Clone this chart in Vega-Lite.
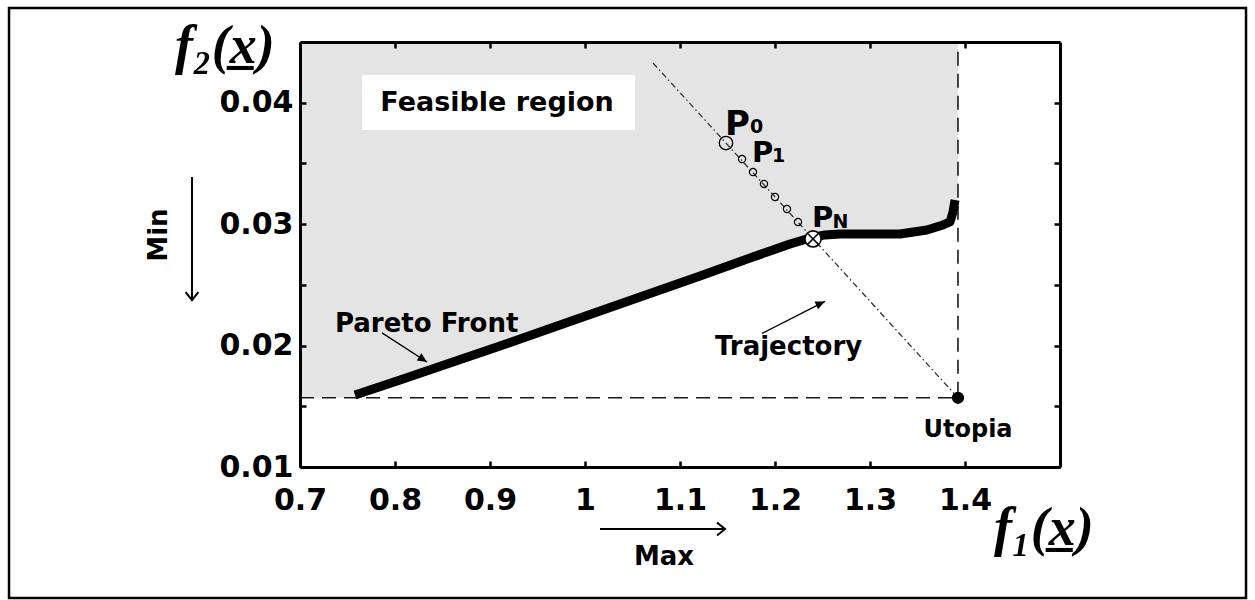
{
  "$schema": "https://vega.github.io/schema/vega-lite/v6.json",
  "width": 760,
  "height": 425,
  "autosize": {"type": "none"},
  "padding": {"left": 300, "top": 42, "right": 195, "bottom": 133},
  "background": "white",
  "config": {"view": {"stroke": null}, "font": "DejaVu Sans"},
  "resolve": {"axis": {"x": "independent", "y": "independent"}},
  "datasets": {
    "feasible": [
      {"f1": 0.7, "f2": 0.0157},
      {"f1": 0.7579, "f2": 0.0157},
      {"f1": 0.8053, "f2": 0.01716},
      {"f1": 0.8579, "f2": 0.01856},
      {"f1": 0.9105, "f2": 0.01996},
      {"f1": 0.9632, "f2": 0.02141},
      {"f1": 1.0158, "f2": 0.02285},
      {"f1": 1.0684, "f2": 0.02429},
      {"f1": 1.1211, "f2": 0.02573},
      {"f1": 1.1737, "f2": 0.02721},
      {"f1": 1.2158, "f2": 0.02836},
      {"f1": 1.2368, "f2": 0.02886},
      {"f1": 1.2526, "f2": 0.02911},
      {"f1": 1.2684, "f2": 0.02919},
      {"f1": 1.3316, "f2": 0.02919},
      {"f1": 1.36, "f2": 0.02952},
      {"f1": 1.3768, "f2": 0.02993},
      {"f1": 1.3842, "f2": 0.03018},
      {"f1": 1.3874, "f2": 0.031},
      {"f1": 1.3895, "f2": 0.03199},
      {"f1": 1.3926, "f2": 0.03199}
    ],
    "pareto": [
      {"f1": 0.7579, "f2": 0.01593, "seq": 1},
      {"f1": 0.8053, "f2": 0.01716, "seq": 2},
      {"f1": 0.8579, "f2": 0.01856, "seq": 3},
      {"f1": 0.9105, "f2": 0.01996, "seq": 4},
      {"f1": 0.9632, "f2": 0.02141, "seq": 5},
      {"f1": 1.0158, "f2": 0.02285, "seq": 6},
      {"f1": 1.0684, "f2": 0.02429, "seq": 7},
      {"f1": 1.1211, "f2": 0.02573, "seq": 8},
      {"f1": 1.1737, "f2": 0.02721, "seq": 9},
      {"f1": 1.2158, "f2": 0.02836, "seq": 10},
      {"f1": 1.2368, "f2": 0.02886, "seq": 11},
      {"f1": 1.2526, "f2": 0.02911, "seq": 12},
      {"f1": 1.2684, "f2": 0.02919, "seq": 13},
      {"f1": 1.3316, "f2": 0.02919, "seq": 14},
      {"f1": 1.36, "f2": 0.02952, "seq": 15},
      {"f1": 1.3768, "f2": 0.02993, "seq": 16},
      {"f1": 1.3842, "f2": 0.03018, "seq": 17},
      {"f1": 1.3874, "f2": 0.031, "seq": 18},
      {"f1": 1.3895, "f2": 0.03199, "seq": 19}
    ],
    "utopiaBounds": [
      {"f1": 0.7, "f2": 0.0157, "seq": 1},
      {"f1": 1.3926, "f2": 0.0157, "seq": 2},
      {"f1": 1.3926, "f2": 0.045, "seq": 3}
    ],
    "trajectory": [
      {"f1": 1.0716, "f2": 0.04327},
      {"f1": 1.3926, "f2": 0.0157}
    ],
    "iterates": [
      {"f1": 1.1653, "f2": 0.03536},
      {"f1": 1.1768, "f2": 0.03429},
      {"f1": 1.1884, "f2": 0.03331},
      {"f1": 1.2, "f2": 0.03224},
      {"f1": 1.2126, "f2": 0.03125},
      {"f1": 1.2242, "f2": 0.03018}
    ],
    "start": [{"f1": 1.1484, "f2": 0.03668}],
    "final": [{"f1": 1.24, "f2": 0.02878}],
    "utopia": [{"f1": 1.3926, "f2": 0.0157}],
    "regionBox": [{"x0": 0.7653, "x1": 1.0526, "y0": 0.03775, "y1": 0.04228}],
    "regionLabel": [{"label": "Feasible region", "f1": 0.9074, "f2": 0.0400}],
    "notes": [
      {"label": "Pareto Front", "f1": 0.7368, "f2": 0.02112},
      {"label": "Trajectory", "f1": 1.1368, "f2": 0.01922}
    ],
    "thinArrows": [
      {"x0": 0.7863, "y0": 0.02104, "x1": 0.8337, "y1": 0.01865},
      {"x0": 1.1863, "y0": 0.0210, "x1": 1.2526, "y1": 0.02363}
    ],
    "paretoTip": [{"f1": 0.8337, "f2": 0.01865}],
    "trajTip": [{"f1": 1.2526, "f2": 0.02363}],
    "utopiaLabel": [{"label": "Utopia", "f1": 1.4032, "f2": 0.01247}],
    "maxArrow": [{"x0": 1.0158, "x1": 1.1474, "y": 0.00489}],
    "maxTip": [{"f1": 1.1474, "f2": 0.00489}],
    "maxLabel": [{"label": "Max", "f1": 1.0832, "f2": 0.00193}],
    "minArrow": [{"x": 0.5863, "y0": 0.03388, "y1": 0.02375}],
    "minTip": [{"f1": 0.5863, "f2": 0.02375}],
    "minLabel": [{"label": "Min", "f1": 0.5516, "f2": 0.0291}],
    "bigP": [{"label": "P", "f1": 1.1474, "f2": 0.03734}],
    "smallP": [
      {"label": "P", "f1": 1.1758, "f2": 0.03512},
      {"label": "P", "f1": 1.2389, "f2": 0.02976}
    ],
    "subscripts": [
      {"label": "0", "f1": 1.1737, "f2": 0.0375},
      {"label": "1", "f1": 1.1968, "f2": 0.03512},
      {"label": "N", "f1": 1.2605, "f2": 0.02968}
    ],
    "f2Title": [{"label": "f₂(x̲)", "f1": 0.5684, "f2": 0.04327}],
    "f1Title": [{"label": "f₁(x̲)", "f1": 1.4305, "f2": 0.00358}],
    "frame": [{"x0": 0.3937, "x1": 1.6958, "y0": -0.00079, "y1": 0.0478}]
  },
  "layer": [
    {
      "data": {"name": "feasible"},
      "mark": {"type": "area", "color": "#e4e4e4", "orient": "vertical"},
      "encoding": {
        "x": {
          "field": "f1", "type": "quantitative",
          "scale": {"domain": [0.7, 1.5], "nice": false, "zero": false},
          "axis": {
            "orient": "bottom", "title": null,
            "values": [0.7, 0.8, 0.9, 1, 1.1, 1.2, 1.3, 1.4],
            "format": "~g",
            "labelFont": "DejaVu Sans", "labelFontWeight": "bold", "labelFontSize": 30,
            "labelColor": "#000", "labelPadding": 24, "labelFlush": false, "labelOverlap": false,
            "tickSize": -6, "tickWidth": 2.5, "tickColor": "#000",
            "domainColor": "#000", "domainWidth": 3, "grid": false, "zindex": 1
          }
        },
        "y": {
          "field": "f2", "type": "quantitative",
          "scale": {"domain": [0.01, 0.045], "nice": false, "zero": false},
          "axis": {
            "orient": "left", "title": null,
            "values": [0.01, 0.015, 0.02, 0.025, 0.03, 0.035, 0.04],
            "labelExpr": "round(datum.value * 1000) % 10 == 0 ? format(datum.value, '.2f') : ''",
            "labelFont": "DejaVu Sans", "labelFontWeight": "bold", "labelFontSize": 30,
            "labelColor": "#000", "labelPadding": 13, "labelFlush": false, "labelOverlap": false,
            "tickSize": -6, "tickWidth": 2.5, "tickColor": "#000",
            "domainColor": "#000", "domainWidth": 3, "grid": false, "zindex": 1
          }
        },
        "y2": {"datum": 0.045}
      }
    },
    {
      "data": {"name": "regionBox"},
      "mark": {"type": "rect", "color": "#ffffff"},
      "encoding": {
        "x": {"field": "x0", "type": "quantitative", "axis": null},
        "x2": {"field": "x1"},
        "y": {"field": "y0", "type": "quantitative", "axis": null},
        "y2": {"field": "y1"}
      }
    },
    {
      "data": {"name": "utopiaBounds"},
      "mark": {"type": "line", "color": "#1a1a1a", "strokeWidth": 1.6, "strokeDash": [14, 8]},
      "encoding": {
        "x": {
          "field": "f1", "type": "quantitative",
          "axis": {
            "orient": "top", "title": null, "labels": false,
            "values": [0.7, 0.8, 0.9, 1, 1.1, 1.2, 1.3, 1.4],
            "tickSize": -6, "tickWidth": 2.5, "tickColor": "#000",
            "domainColor": "#000", "domainWidth": 3, "grid": false, "zindex": 1
          }
        },
        "y": {
          "field": "f2", "type": "quantitative",
          "axis": {
            "orient": "right", "title": null, "labels": false,
            "values": [0.01, 0.015, 0.02, 0.025, 0.03, 0.035, 0.04],
            "tickSize": -6, "tickWidth": 2.5, "tickColor": "#000",
            "domainColor": "#000", "domainWidth": 3, "grid": false, "zindex": 1
          }
        },
        "order": {"field": "seq", "type": "quantitative"}
      }
    },
    {
      "data": {"name": "trajectory"},
      "mark": {"type": "line", "color": "#333333", "strokeWidth": 1.3, "strokeDash": [6, 3, 1.5, 3]},
      "encoding": {
        "x": {"field": "f1", "type": "quantitative", "axis": null},
        "y": {"field": "f2", "type": "quantitative", "axis": null}
      }
    },
    {
      "data": {"name": "pareto"},
      "mark": {"type": "line", "color": "#000000", "strokeWidth": 9, "strokeCap": "butt", "strokeJoin": "round"},
      "encoding": {
        "x": {"field": "f1", "type": "quantitative", "axis": null},
        "y": {"field": "f2", "type": "quantitative", "axis": null},
        "order": {"field": "seq", "type": "quantitative"}
      }
    },
    {
      "data": {"name": "iterates"},
      "mark": {"type": "point", "shape": "circle", "size": 52, "filled": false, "color": "#000", "strokeWidth": 1.2, "opacity": 1},
      "encoding": {
        "x": {"field": "f1", "type": "quantitative", "axis": null},
        "y": {"field": "f2", "type": "quantitative", "axis": null}
      }
    },
    {
      "data": {"name": "start"},
      "mark": {"type": "point", "shape": "circle", "size": 180, "filled": false, "color": "#000", "strokeWidth": 1.3, "opacity": 1},
      "encoding": {
        "x": {"field": "f1", "type": "quantitative", "axis": null},
        "y": {"field": "f2", "type": "quantitative", "axis": null}
      }
    },
    {
      "data": {"name": "final"},
      "mark": {"type": "point", "shape": "circle", "size": 260, "fill": "#ffffff", "fillOpacity": 1, "stroke": "#000", "strokeWidth": 1.6, "opacity": 1},
      "encoding": {
        "x": {"field": "f1", "type": "quantitative", "axis": null},
        "y": {"field": "f2", "type": "quantitative", "axis": null}
      }
    },
    {
      "data": {"name": "final"},
      "mark": {"type": "point", "shape": "M-0.7,-0.7L0.7,0.7M-0.7,0.7L0.7,-0.7", "size": 260, "filled": false, "color": "#000", "strokeWidth": 1.5, "opacity": 1},
      "encoding": {
        "x": {"field": "f1", "type": "quantitative", "axis": null},
        "y": {"field": "f2", "type": "quantitative", "axis": null}
      }
    },
    {
      "data": {"name": "utopia"},
      "mark": {"type": "point", "shape": "circle", "size": 150, "filled": true, "color": "#000", "opacity": 1},
      "encoding": {
        "x": {"field": "f1", "type": "quantitative", "axis": null},
        "y": {"field": "f2", "type": "quantitative", "axis": null}
      }
    },
    {
      "data": {"name": "thinArrows"},
      "mark": {"type": "rule", "color": "#000", "strokeWidth": 1.4},
      "encoding": {
        "x": {"field": "x0", "type": "quantitative", "axis": null},
        "y": {"field": "y0", "type": "quantitative", "axis": null},
        "x2": {"field": "x1"},
        "y2": {"field": "y1"}
      }
    },
    {
      "data": {"name": "paretoTip"},
      "mark": {"type": "point", "shape": "M0,0L-1,-0.45L-1,0.45Z", "size": 360, "filled": true, "color": "#000", "opacity": 1, "angle": 32.8},
      "encoding": {
        "x": {"field": "f1", "type": "quantitative", "axis": null},
        "y": {"field": "f2", "type": "quantitative", "axis": null}
      }
    },
    {
      "data": {"name": "trajTip"},
      "mark": {"type": "point", "shape": "M0,0L-1,-0.45L-1,0.45Z", "size": 360, "filled": true, "color": "#000", "opacity": 1, "angle": 336.4},
      "encoding": {
        "x": {"field": "f1", "type": "quantitative", "axis": null},
        "y": {"field": "f2", "type": "quantitative", "axis": null}
      }
    },
    {
      "data": {"name": "maxArrow"},
      "mark": {"type": "rule", "color": "#000", "strokeWidth": 2},
      "encoding": {
        "x": {"field": "x0", "type": "quantitative", "axis": null},
        "x2": {"field": "x1"},
        "y": {"field": "y", "type": "quantitative", "axis": null}
      }
    },
    {
      "data": {"name": "maxTip"},
      "mark": {"type": "point", "shape": "M-1,-0.8L0,0L-1,0.8", "size": 256, "filled": false, "color": "#000", "strokeWidth": 2, "opacity": 1, "angle": 0},
      "encoding": {
        "x": {"field": "f1", "type": "quantitative", "axis": null},
        "y": {"field": "f2", "type": "quantitative", "axis": null}
      }
    },
    {
      "data": {"name": "minArrow"},
      "mark": {"type": "rule", "color": "#000", "strokeWidth": 2},
      "encoding": {
        "x": {"field": "x", "type": "quantitative", "axis": null},
        "y": {"field": "y0", "type": "quantitative", "axis": null},
        "y2": {"field": "y1"}
      }
    },
    {
      "data": {"name": "minTip"},
      "mark": {"type": "point", "shape": "M-1,-0.8L0,0L-1,0.8", "size": 256, "filled": false, "color": "#000", "strokeWidth": 2, "opacity": 1, "angle": 90},
      "encoding": {
        "x": {"field": "f1", "type": "quantitative", "axis": null},
        "y": {"field": "f2", "type": "quantitative", "axis": null}
      }
    },
    {
      "data": {"name": "regionLabel"},
      "mark": {"type": "text", "font": "DejaVu Sans", "fontWeight": "bold", "fontSize": 27, "align": "center", "baseline": "middle", "color": "#000"},
      "encoding": {
        "x": {"field": "f1", "type": "quantitative", "axis": null},
        "y": {"field": "f2", "type": "quantitative", "axis": null},
        "text": {"field": "label"}
      }
    },
    {
      "data": {"name": "notes"},
      "mark": {"type": "text", "font": "DejaVu Sans", "fontWeight": "bold", "fontSize": 26, "align": "left", "baseline": "alphabetic", "color": "#000"},
      "encoding": {
        "x": {"field": "f1", "type": "quantitative", "axis": null},
        "y": {"field": "f2", "type": "quantitative", "axis": null},
        "text": {"field": "label"}
      }
    },
    {
      "data": {"name": "utopiaLabel"},
      "mark": {"type": "text", "font": "DejaVu Sans", "fontWeight": "bold", "fontSize": 24, "align": "center", "baseline": "alphabetic", "color": "#000"},
      "encoding": {
        "x": {"field": "f1", "type": "quantitative", "axis": null},
        "y": {"field": "f2", "type": "quantitative", "axis": null},
        "text": {"field": "label"}
      }
    },
    {
      "data": {"name": "maxLabel"},
      "mark": {"type": "text", "font": "DejaVu Sans", "fontWeight": "bold", "fontSize": 26, "align": "center", "baseline": "alphabetic", "color": "#000"},
      "encoding": {
        "x": {"field": "f1", "type": "quantitative", "axis": null},
        "y": {"field": "f2", "type": "quantitative", "axis": null},
        "text": {"field": "label"}
      }
    },
    {
      "data": {"name": "minLabel"},
      "mark": {"type": "text", "font": "DejaVu Sans", "fontWeight": "bold", "fontSize": 26, "align": "center", "baseline": "middle", "angle": 270, "color": "#000"},
      "encoding": {
        "x": {"field": "f1", "type": "quantitative", "axis": null},
        "y": {"field": "f2", "type": "quantitative", "axis": null},
        "text": {"field": "label"}
      }
    },
    {
      "data": {"name": "bigP"},
      "mark": {"type": "text", "font": "DejaVu Sans", "fontWeight": "bold", "fontSize": 34, "align": "left", "baseline": "alphabetic", "color": "#000"},
      "encoding": {
        "x": {"field": "f1", "type": "quantitative", "axis": null},
        "y": {"field": "f2", "type": "quantitative", "axis": null},
        "text": {"field": "label"}
      }
    },
    {
      "data": {"name": "smallP"},
      "mark": {"type": "text", "font": "DejaVu Sans", "fontWeight": "bold", "fontSize": 29, "align": "left", "baseline": "alphabetic", "color": "#000"},
      "encoding": {
        "x": {"field": "f1", "type": "quantitative", "axis": null},
        "y": {"field": "f2", "type": "quantitative", "axis": null},
        "text": {"field": "label"}
      }
    },
    {
      "data": {"name": "subscripts"},
      "mark": {"type": "text", "font": "DejaVu Sans", "fontWeight": "bold", "fontSize": 19, "align": "left", "baseline": "alphabetic", "color": "#000"},
      "encoding": {
        "x": {"field": "f1", "type": "quantitative", "axis": null},
        "y": {"field": "f2", "type": "quantitative", "axis": null},
        "text": {"field": "label"}
      }
    },
    {
      "data": {"name": "f2Title"},
      "mark": {"type": "text", "font": "Liberation Serif", "fontWeight": "bold", "fontStyle": "italic", "fontSize": 54, "align": "left", "baseline": "alphabetic", "color": "#000"},
      "encoding": {
        "x": {"field": "f1", "type": "quantitative", "axis": null},
        "y": {"field": "f2", "type": "quantitative", "axis": null},
        "text": {"field": "label"}
      }
    },
    {
      "data": {"name": "f1Title"},
      "mark": {"type": "text", "font": "Liberation Serif", "fontWeight": "bold", "fontStyle": "italic", "fontSize": 54, "align": "left", "baseline": "alphabetic", "color": "#000"},
      "encoding": {
        "x": {"field": "f1", "type": "quantitative", "axis": null},
        "y": {"field": "f2", "type": "quantitative", "axis": null},
        "text": {"field": "label"}
      }
    },
    {
      "data": {"name": "frame"},
      "mark": {"type": "rect", "fillOpacity": 0, "fill": "#fff", "stroke": "#000", "strokeWidth": 2.5},
      "encoding": {
        "x": {"field": "x0", "type": "quantitative", "axis": null},
        "x2": {"field": "x1"},
        "y": {"field": "y0", "type": "quantitative", "axis": null},
        "y2": {"field": "y1"}
      }
    }
  ]
}
